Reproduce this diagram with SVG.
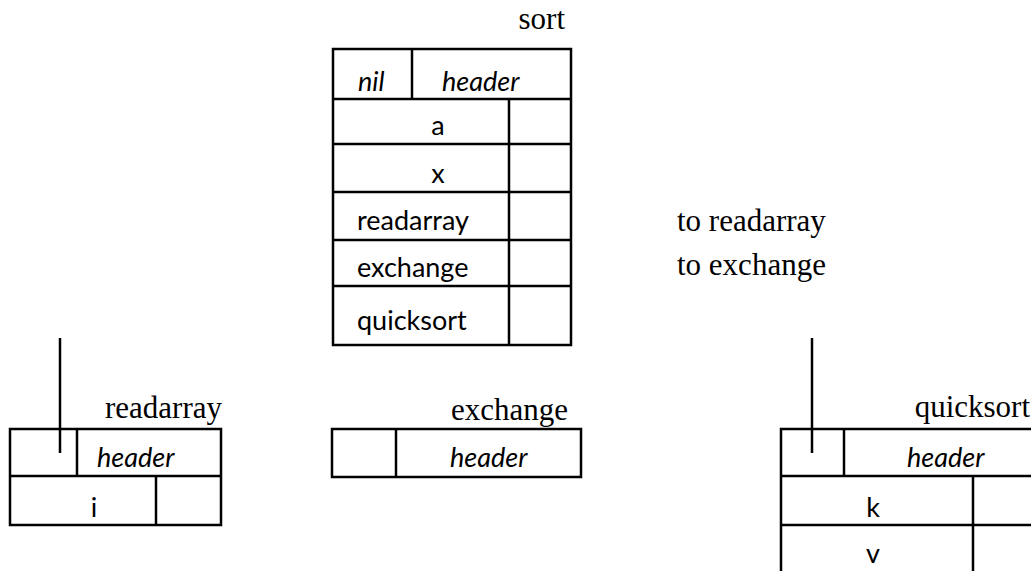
<svg xmlns="http://www.w3.org/2000/svg" width="1031" height="571" viewBox="0 0 1031 571">
  <style>
    .frame { fill: none; stroke: #000; stroke-width: 2.5; }
    .rule { stroke: #000; stroke-width: 2.5; fill: none; }
    .serif { font-family: "Liberation Serif", "Times New Roman", serif; font-size: 31px; fill: #000; }
    .sans { font-family: Lato, "Open Sans", "Liberation Sans", sans-serif; font-size: 27px; fill: #000; }
    .it { font-style: italic; }
    .mid { text-anchor: middle; }
    .end { text-anchor: end; }
  </style>
  <rect width="1031" height="571" fill="#fff"/>

  <!-- symbol table for sort -->
  <g id="sort">
    <text class="serif end" x="565" y="29">sort</text>
    <rect class="frame" x="333" y="49" width="238" height="296"/>
    <line class="rule" x1="412" y1="49" x2="412" y2="99"/>
    <line class="rule" x1="333" y1="99" x2="571" y2="99"/>
    <line class="rule" x1="333" y1="144" x2="571" y2="144"/>
    <line class="rule" x1="333" y1="192" x2="571" y2="192"/>
    <line class="rule" x1="333" y1="240" x2="571" y2="240"/>
    <line class="rule" x1="333" y1="286" x2="571" y2="286"/>
    <line class="rule" x1="509" y1="99" x2="509" y2="345"/>
    <text class="sans it" x="358" y="91">nil</text>
    <text class="sans it" x="442" y="91">header</text>
    <text class="sans mid" x="438" y="135">a</text>
    <text class="sans mid" x="438" y="183">x</text>
    <text class="sans" x="357" y="230">readarray</text>
    <text class="sans" x="357" y="277">exchange</text>
    <text class="sans" x="357" y="330">quicksort</text>
  </g>

  <!-- pointer notes beside the sort table -->
  <g id="notes">
    <text class="serif" x="677" y="231">to readarray</text>
    <text class="serif" x="677" y="275">to exchange</text>
  </g>

  <!-- symbol table for readarray -->
  <g id="readarray">
    <text class="serif end" x="222" y="418">readarray</text>
    <rect class="frame" x="10" y="429" width="211" height="96"/>
    <line class="rule" x1="10" y1="476" x2="221" y2="476"/>
    <line class="rule" x1="77" y1="429" x2="77" y2="476"/>
    <line class="rule" x1="156" y1="476" x2="156" y2="525"/>
    <text class="sans it" x="97" y="467">header</text>
    <text class="sans mid" x="94" y="517">i</text>
  </g>

  <!-- symbol table for exchange -->
  <g id="exchange">
    <text class="serif end" x="568" y="420">exchange</text>
    <rect class="frame" x="332" y="429" width="249" height="48"/>
    <line class="rule" x1="396" y1="429" x2="396" y2="477"/>
    <text class="sans it" x="450" y="467">header</text>
  </g>

  <!-- symbol table for quicksort, running off the right edge -->
  <g id="quicksort">
    <text class="serif end" x="1030" y="417">quicksort</text>
    <path class="rule" d="M1031 429 H781 V571"/>
    <line class="rule" x1="781" y1="476" x2="1031" y2="476"/>
    <line class="rule" x1="781" y1="525" x2="1031" y2="525"/>
    <line class="rule" x1="844" y1="429" x2="844" y2="476"/>
    <line class="rule" x1="973" y1="476" x2="973" y2="571"/>
    <text class="sans it" x="907" y="467">header</text>
    <text class="sans mid" x="873" y="517">k</text>
    <text class="sans mid" x="873" y="563">v</text>
  </g>

  <!-- links pointing up to the enclosing table -->
  <g id="connectors">
    <line class="rule" x1="60" y1="338" x2="60" y2="453"/>
    <line class="rule" x1="812" y1="338" x2="812" y2="453"/>
  </g>
</svg>
